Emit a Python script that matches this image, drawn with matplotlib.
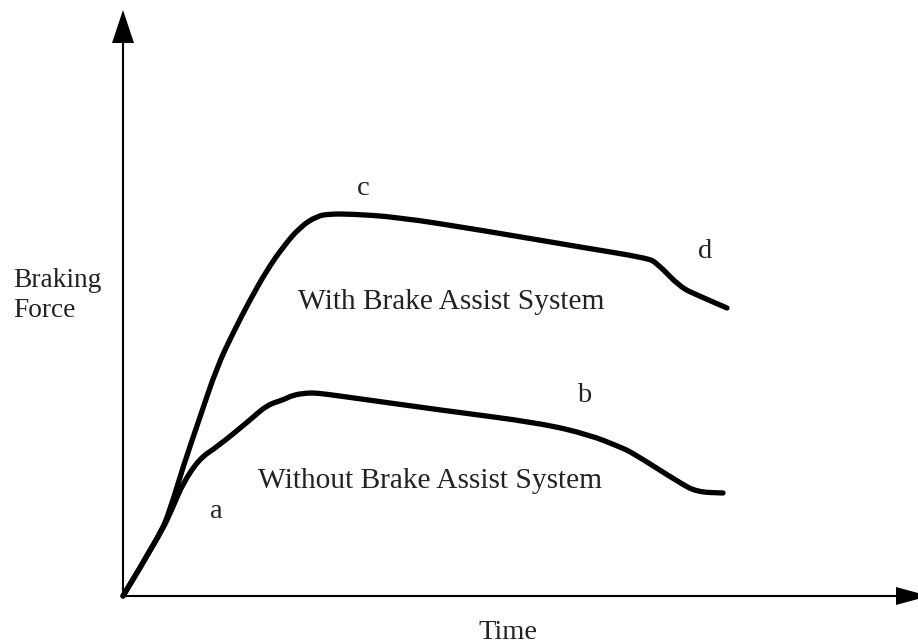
import matplotlib.pyplot as plt
from matplotlib.path import Path
from matplotlib.patches import PathPatch

# braking force vs time (arbitrary units)
t_with = [0, 37, 47, 60, 77, 94, 110, 127, 144, 160, 177, 194, 207, 227,
          274, 357, 457, 524, 534, 557, 574, 604]
f_with = [0, 61, 86, 129, 179, 229, 263, 296, 326, 349, 369, 380, 382, 382,
          379, 366, 349, 338, 333, 309, 301, 288]

t_without = [0, 37, 50, 60, 77, 94, 127, 144, 160, 170, 184, 194, 217, 317,
             417, 467, 497, 510, 557, 574, 600]
f_without = [0, 61, 89, 113, 138, 149, 176, 191, 196, 201, 203, 203, 200, 186,
             173, 161, 149, 143, 113, 104, 103]

point_labels = ['a', 'b', 'c', 'd']
curve_labels = ['With Brake Assist System', 'Without Brake Assist System']

plt.rcParams['font.family'] = ['Liberation Serif', 'DejaVu Serif']


def smooth_path(xs, ys):
    # quadratic bezier through the midpoints, read points act as controls
    verts = [(xs[0], ys[0])]
    codes = [Path.MOVETO]
    for i in range(1, len(xs) - 1):
        mx = (xs[i] + xs[i + 1]) / 2
        my = (ys[i] + ys[i + 1]) / 2
        verts += [(xs[i], ys[i]), (mx, my)]
        codes += [Path.CURVE3, Path.CURVE3]
    verts.append((xs[-1], ys[-1]))
    codes.append(Path.LINETO)
    return Path(verts, codes)


fig = plt.figure(figsize=(9.18, 6.44), dpi=100)
ax = fig.add_axes([0, 0, 1, 1])
ax.set_xlim(-123, 795)
ax.set_ylim(-48, 596)
ax.axis('off')

# hand drawn axes with arrow heads
ax.plot([0, 0], [0, 556], color='black', lw=1.5)
ax.fill([-11, 11, 0], [553, 553, 586], color='black', lw=0)
ax.plot([0, 775], [0, 0], color='black', lw=1.5)
ax.fill([773, 773, 806], [-9, 9, 0], color='black', lw=0)

for xs, ys in [(t_with, f_with), (t_without, f_without)]:
    ax.add_patch(PathPatch(smooth_path(xs, ys), fill=False, edgecolor='black',
                           lw=3.8, joinstyle='round', capstyle='round'))

txt = dict(color='#222222', fontsize=20.5, ha='left', va='baseline')
ax.text(87, 78, point_labels[0], **txt)
ax.text(454, 194, point_labels[1], **txt)
ax.text(234, 401, point_labels[2], **txt)
ax.text(575, 338, point_labels[3], **txt)

big = dict(txt, fontsize=21.2)
ax.text(175, 287, curve_labels[0], **big)
ax.text(135, 108, curve_labels[1], **big)

side = dict(txt, fontsize=19.7)
ax.text(-110, 309, 'Braking', **side)
ax.text(-110, 279, 'Force', **side)
ax.text(355, -43, 'Time', **txt)

fig.savefig('out.png', dpi=100)
